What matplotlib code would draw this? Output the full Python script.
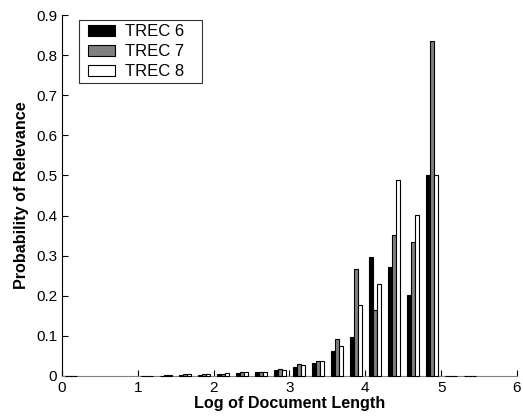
import matplotlib
matplotlib.use("Agg")
import matplotlib.pyplot as plt
from matplotlib.patches import Rectangle
from matplotlib.legend_handler import HandlerPatch
import numpy as np

plt.rcParams['font.family'] = ['Liberation Sans', 'DejaVu Sans']

centers = [0.125, 1.125, 1.375, 1.625, 1.875, 2.125, 2.375, 2.625, 2.875,
           3.125, 3.375, 3.625, 3.875, 4.125, 4.375, 4.625, 4.875, 5.125, 5.375]
trec6 = [0.0, 0.001, 0.001, 0.003, 0.003, 0.005, 0.008, 0.010, 0.016,
         0.023, 0.033, 0.062, 0.097, 0.297, 0.272, 0.202, 0.500, 0.0, 0.0]
trec7 = [0.0, 0.001, 0.002, 0.004, 0.004, 0.006, 0.009, 0.011, 0.017,
         0.029, 0.037, 0.092, 0.267, 0.164, 0.352, 0.333, 0.835, 0.0, 0.0]
trec8 = [0.0, 0.001, 0.003, 0.005, 0.006, 0.007, 0.009, 0.011, 0.014,
         0.027, 0.037, 0.075, 0.178, 0.230, 0.488, 0.401, 0.500, 0.0, 0.0]
labels = ['TREC 6', 'TREC 7', 'TREC 8']
colors = ['black', '#808080', 'white']

fig = plt.figure(figsize=(5.23, 4.18), dpi=100)
ax = fig.add_axes([0.1185, 0.1005, 0.870, 0.8635])

x = np.array(centers)
w = 0.053
handles = []
for i, (vals, c) in enumerate(zip([trec6, trec7, trec8], colors)):
    bc = ax.bar(x + (i - 1) * w, vals, width=w, color=c, edgecolor='black',
                linewidth=0.8, zorder=3, clip_on=False)
    handles.append(bc.patches[0])

ax.set_xlim(0, 6)
ax.set_ylim(0, 0.9)
ax.set_xticks(range(0, 7))
ax.set_yticks(np.arange(0, 0.91, 0.1))
ax.set_yticklabels(['0'] + ['%.1f' % v for v in np.arange(0.1, 0.91, 0.1)])
ax.tick_params(direction='in', length=4, labelsize=11, width=0.8)
ax.spines['top'].set_visible(False)
ax.spines['right'].set_visible(False)
ax.spines['bottom'].set_color('#808080')
ax.set_xlabel('Log of Document Length', fontsize=11.6, fontweight='bold', labelpad=1)
ax.set_ylabel('Probability of Relevance', fontsize=11.6, fontweight='bold', labelpad=5)


def make_patch(legend, orig_handle, xdescent, ydescent, width, height, fontsize):
    off = 3.6
    return Rectangle((-xdescent + off, -ydescent), width - off, height)


leg = ax.legend(handles, [l + '   ' for l in labels],
                loc='upper left', bbox_to_anchor=(0.037, 0.986), fontsize=12,
                frameon=True, fancybox=False, edgecolor='black',
                handlelength=1.95, handleheight=0.72, labelspacing=0.3,
                borderpad=0.25, handletextpad=0.55, borderaxespad=0,
                handler_map={Rectangle: HandlerPatch(patch_func=make_patch)})
leg.get_frame().set_linewidth(0.8)
leg.set_zorder(5)

fig.savefig('out.png', dpi=100)
